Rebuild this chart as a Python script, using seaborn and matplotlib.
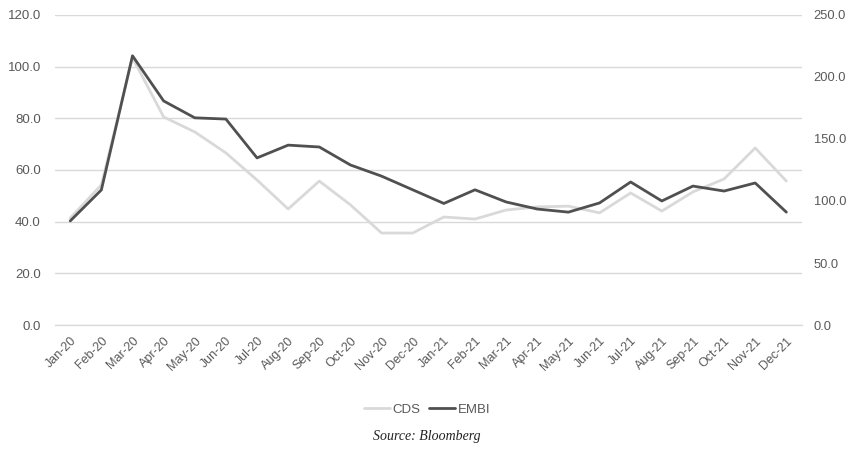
import pandas as pd
import seaborn as sns
from matplotlib import pyplot as plt
from matplotlib.ticker import FixedLocator, FormatStrFormatter

months = ['Jan-20', 'Feb-20', 'Mar-20', 'Apr-20', 'May-20', 'Jun-20', 'Jul-20', 'Aug-20',
          'Sep-20', 'Oct-20', 'Nov-20', 'Dec-20', 'Jan-21', 'Feb-21', 'Mar-21', 'Apr-21',
          'May-21', 'Jun-21', 'Jul-21', 'Aug-21', 'Sep-21', 'Oct-21', 'Nov-21', 'Dec-21']
cds = [41.4, 54.2, 103.4, 80.5, 74.7, 66.6, 56.1, 44.9, 55.7, 46.5, 35.6, 35.6,
       41.8, 41.0, 44.5, 45.7, 46.0, 43.4, 51.1, 44.1, 51.5, 56.5, 68.5, 55.7]
embi = [83.9, 108.9, 217.0, 180.6, 167.0, 166.0, 134.7, 145.0, 143.5, 129.0, 120.0, 109.0,
        98.0, 109.0, 99.2, 93.5, 91.0, 98.4, 115.3, 100.0, 112.0, 108.0, 114.5, 91.0]

df = pd.DataFrame({'mes': months, 'CDS': cds, 'EMBI': embi})
df['pos'] = range(len(df))

sns.set_style('white')
plt.rcParams['font.family'] = ['Liberation Sans', 'DejaVu Sans']

grid_c = '#d9d9d9'
text_c = '#595959'

fig = plt.figure(figsize=(8.54, 4.49), dpi=100)
ax = fig.add_axes([0.064, 0.276, 0.875, 0.691])
ax2 = ax.twinx()

sns.lineplot(x='pos', y='CDS', data=df, ax=ax, color='#d9d9d9', linewidth=2.0, label='CDS', legend=False)
sns.lineplot(x='pos', y='EMBI', data=df, ax=ax2, color='#505050', linewidth=2.0, label='EMBI', legend=False)

ax.set_xlim(-0.5, len(months) - 0.5)
ax.set_ylim(0, 120)
ax2.set_ylim(0, 250)
ax.set_yticks(range(0, 121, 20))
ax2.set_yticks(range(0, 251, 50))
ax.yaxis.set_major_formatter(FormatStrFormatter('%.1f'))
ax2.yaxis.set_major_formatter(FormatStrFormatter('%.1f'))

ax.set_xticks(df['pos'])
ax.set_xticklabels(months, rotation=45, ha='right', rotation_mode='anchor')
ax.xaxis.set_minor_locator(FixedLocator([i - 0.5 for i in range(len(months) + 1)]))
ax.tick_params(axis='x', which='major', length=0, pad=7, labelsize=9, labelcolor=text_c)
ax.tick_params(axis='x', which='minor', length=5, width=1, color=grid_c)
ax.tick_params(axis='y', length=0, labelsize=9.5, labelcolor=text_c, pad=10)
ax2.tick_params(axis='y', length=0, labelsize=9.3, labelcolor=text_c, pad=8.5)

ax.grid(axis='y', color=grid_c, linewidth=1)
ax.set_axisbelow(True)
for a in (ax, ax2):
    for s in ['top', 'left', 'right']:
        a.spines[s].set_visible(False)
    a.spines['bottom'].set_color(grid_c)
    a.set_xlabel('')
    a.set_ylabel('')

h1, l1 = ax.get_legend_handles_labels()
h2, l2 = ax2.get_legend_handles_labels()
fig.legend(h1 + h2, l1 + l2, loc='center', bbox_to_anchor=(0.5, 0.087), ncol=2, frameon=False,
           fontsize=9.5, handlelength=2.0, handletextpad=0.2, columnspacing=0.6, labelcolor=text_c)

fig.text(0.5, 0.027, 'Source: Bloomberg', ha='center', va='center', fontsize=10,
         family='Liberation Serif', style='italic', color='#222222')

fig.savefig('out.png', dpi=100)
